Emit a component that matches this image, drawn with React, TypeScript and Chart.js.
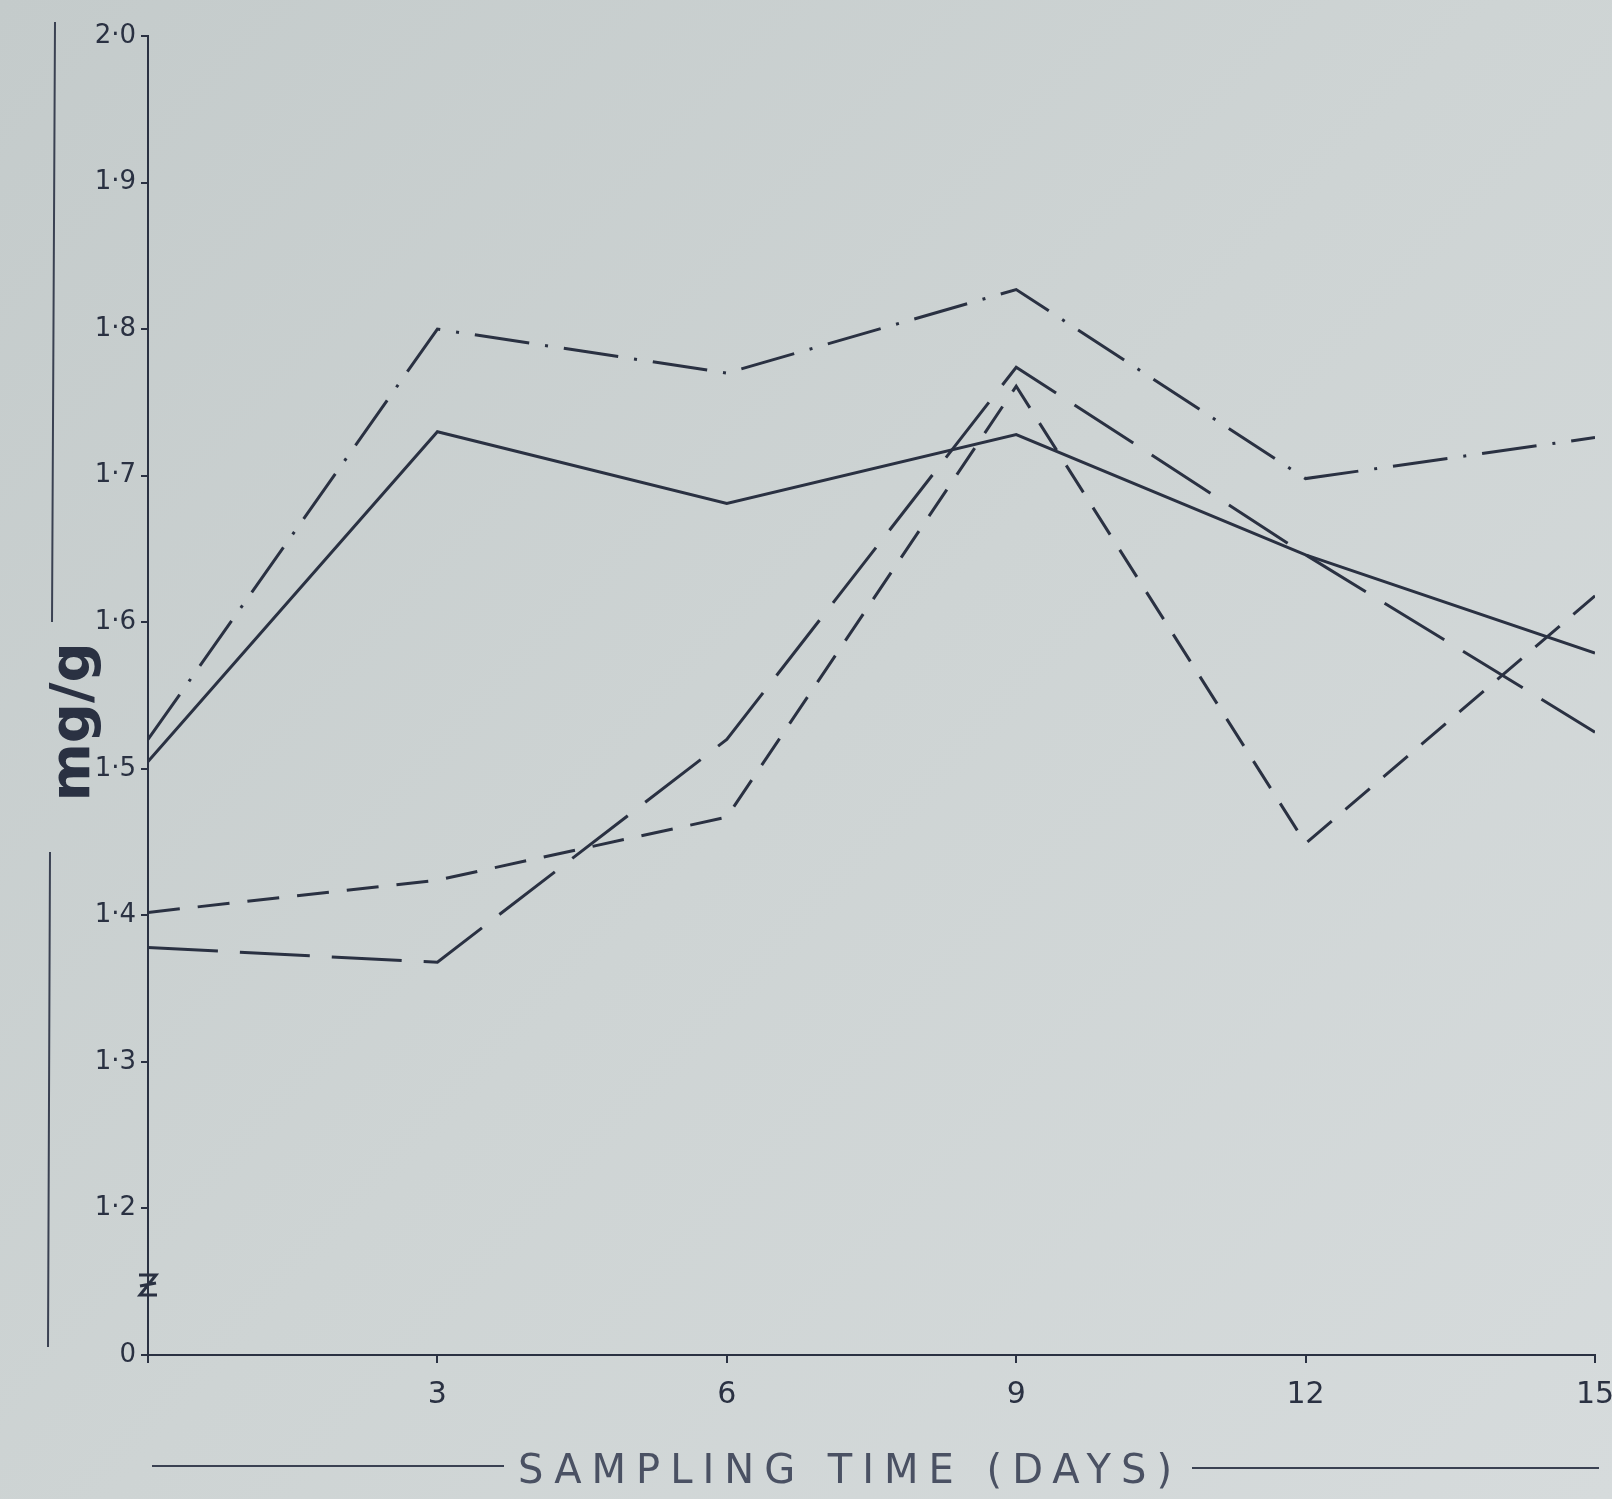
import React, { useEffect, useRef } from "react";
import { Chart, registerables } from "chart.js";

Chart.register(...registerables);

const days = [0, 3, 6, 9, 12, 15];
const dashDotSeries = [1.52, 1.8, 1.77, 1.827, 1.698, 1.726];
const solidSeries = [1.505, 1.73, 1.681, 1.728, 1.646, 1.579];
const longDashSeries = [1.378, 1.368, 1.52, 1.774, 1.646, 1.525];
const shortDashSeries = [1.402, 1.424, 1.467, 1.761, 1.449, 1.618];

const xTickValues = [3, 6, 9, 12, 15];
const yAxisLabel = "mg/g";
const xAxisLabel = "SAMPLING TIME (DAYS)";

const INK = "#2a3142";

const toPoints = (ys: number[]) => days.map((d, i) => ({ x: d, y: ys[i] }));

const decorPlugin = {
  id: "decor",
  beforeDraw(chart: any) {
    const { ctx, width, height } = chart;
    ctx.save();
    const g = ctx.createLinearGradient(0, 0, width, height);
    g.addColorStop(0, "#c4cbcb");
    g.addColorStop(0.5, "#ced4d4");
    g.addColorStop(1, "#d6dbdc");
    ctx.fillStyle = g;
    ctx.fillRect(0, 0, width, height);
    ctx.restore();
  },
  afterDraw(chart: any) {
    const { ctx } = chart;
    const yScale = chart.scales.y;
    const xScale = chart.scales.x;
    ctx.save();
    ctx.strokeStyle = "#3a4152";
    ctx.lineWidth = 2;
    // outer bracket line on left
    ctx.beginPath();
    ctx.moveTo(55, 22);
    ctx.lineTo(52, 622);
    ctx.moveTo(50, 852);
    ctx.lineTo(48, 1347);
    ctx.stroke();
    // bottom bracket lines
    ctx.beginPath();
    ctx.moveTo(152, 1466);
    ctx.lineTo(504, 1466);
    ctx.moveTo(1192, 1468);
    ctx.lineTo(1599, 1468);
    ctx.stroke();

    // axis break marks
    const bx = xScale.getPixelForValue(0);
    const by = yScale.getPixelForValue(1.145);
    ctx.lineWidth = 3;
    ctx.strokeStyle = INK;
    ctx.beginPath();
    ctx.moveTo(bx - 9, by - 14);
    ctx.lineTo(bx + 8, by - 14);
    ctx.lineTo(bx - 8, by + 6);
    ctx.lineTo(bx + 9, by + 6);
    ctx.moveTo(bx - 8, by - 3);
    ctx.lineTo(bx + 8, by - 6);
    ctx.stroke();

    // y axis label
    ctx.fillStyle = INK;
    ctx.font = "bold 56px 'DejaVu Sans'";
    ctx.textAlign = "center";
    ctx.textBaseline = "middle";
    ctx.translate(74, 722);
    ctx.rotate(-Math.PI / 2);
    ctx.fillText(yAxisLabel, 0, 0);
    ctx.restore();

    // x axis label
    ctx.save();
    ctx.fillStyle = "#4a5163";
    ctx.font = "40px 'DejaVu Sans'";
    (ctx as any).letterSpacing = "10px";
    ctx.textAlign = "center";
    ctx.textBaseline = "middle";
    ctx.fillText(xAxisLabel, 850, 1473);
    ctx.restore();
  },
};

export default function App() {
  const canvasRef = useRef<HTMLCanvasElement | null>(null);

  useEffect(() => {
    if (!canvasRef.current) return;
    const chart = new Chart(canvasRef.current, {
      type: "line",
      data: {
        datasets: [
          {
            label: "A",
            data: toPoints(dashDotSeries),
            borderColor: INK,
            borderWidth: 3,
            borderDash: [55, 16, 3, 16],
            pointRadius: 0,
            tension: 0,
            fill: false,
          },
          {
            label: "B",
            data: toPoints(solidSeries),
            borderColor: INK,
            borderWidth: 3,
            pointRadius: 0,
            tension: 0,
            fill: false,
          },
          {
            label: "C",
            data: toPoints(longDashSeries),
            borderColor: INK,
            borderWidth: 3,
            borderDash: [70, 22],
            pointRadius: 0,
            tension: 0,
            fill: false,
          },
          {
            label: "D",
            data: toPoints(shortDashSeries),
            borderColor: INK,
            borderWidth: 3,
            borderDash: [32, 18],
            pointRadius: 0,
            tension: 0,
            fill: false,
          },
        ],
      },
      options: {
        responsive: false,
        animation: false,
        layout: { padding: { top: 36, right: 17, bottom: 0, left: 0 } },
        plugins: {
          legend: { display: false },
          tooltip: { enabled: false },
        },
        scales: {
          x: {
            type: "linear",
            min: 0,
            max: 15,
            afterBuildTicks: (s: any) => {
              s.ticks = [0, ...xTickValues].map((v) => ({ value: v }));
            },
            afterFit: (s: any) => {
              s.height = 144;
              s.paddingRight = 0;
              s.paddingLeft = 0;
            },
            ticks: {
              callback: (v: any) => (Number(v) === 0 ? "" : String(v)),
              color: INK,
              font: { size: 30, family: "'DejaVu Sans'" },
              padding: 14,
              maxRotation: 0,
            },
            grid: {
              display: true,
              drawOnChartArea: false,
              drawTicks: true,
              tickLength: 8,
              color: INK,
              lineWidth: 2,
            },
            border: { display: true, color: INK, width: 2 },
          },
          y: {
            type: "linear",
            min: 1.1,
            max: 2.0,
            afterFit: (s: any) => {
              s.width = 148;
              s.paddingTop = 0;
              s.paddingBottom = 0;
            },
            ticks: {
              stepSize: 0.1,
              callback: (v: any) => {
                const t = Math.round(Number(v) * 10);
                if (t === 11) return "0";
                return (t / 10).toFixed(1).replace(".", "·");
              },
              color: INK,
              font: { size: 26, family: "'DejaVu Sans'" },
              padding: 5,
            },
            grid: {
              display: true,
              drawOnChartArea: false,
              drawTicks: true,
              tickLength: 7,
              color: INK,
              lineWidth: 2,
            },
            border: { display: true, color: INK, width: 2 },
          },
        },
      },
      plugins: [decorPlugin],
    });
    return () => chart.destroy();
  }, []);

  return (
    <div style={{ position: "absolute", left: 0, top: 0, width: 1612, height: 1499 }}>
      <canvas ref={canvasRef} width={1612} height={1499} style={{ display: "block" }} />
    </div>
  );
}
